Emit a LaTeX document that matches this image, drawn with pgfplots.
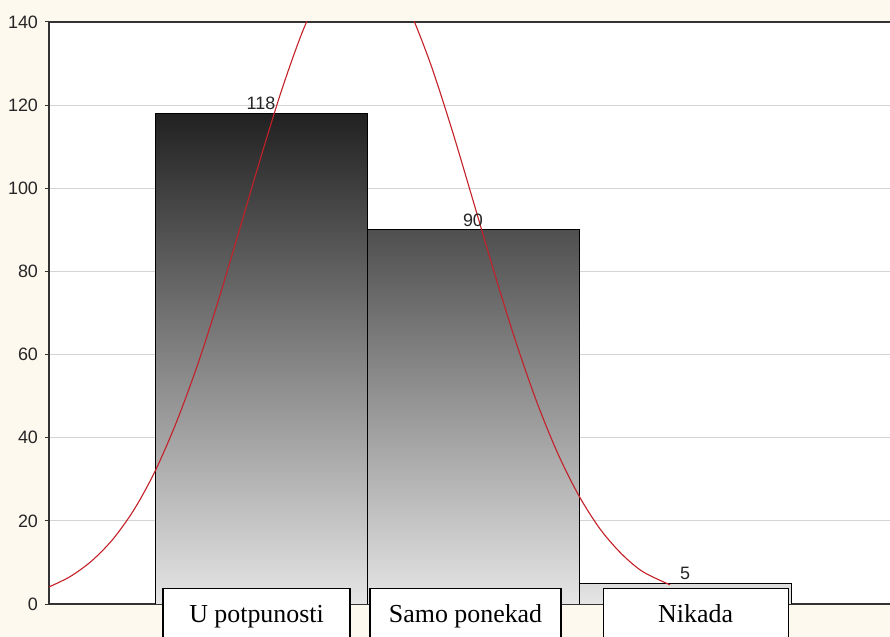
\documentclass[border=0pt]{standalone}
\usepackage{pgfplots}
\pgfplotsset{compat=1.18}
\usepackage{fontspec}
\setmainfont{Liberation Sans}
\newfontfamily\serif{Liberation Serif}

\definecolor{cream}{HTML}{FDF9EE}
\definecolor{gridgray}{HTML}{D4D4D4}
\definecolor{curvered}{RGB}{196,32,40}

\begin{document}
\begin{tikzpicture}
	\fill[cream] (-24.5bp,-16.5bp) rectangle (420.5bp,302bp);
	\begin{axis}[%
			at={(0,0)},
			anchor=south west,
			width=424bp,
			height=291bp,
			scale only axis,
			axis background/.style={fill=white},
			axis line style={draw=black!80, line width=0.7bp},
			xmin=0, xmax=4,
			ymin=0, ymax=140,
			xtick=\empty,
			ytick={0,20,...,140},
			ymajorgrids,
			grid style={gridgray, line width=0.5bp},
			tick align=outside,
			major tick length=2bp,
			tick style={black!80, line width=0.5bp},
			/pgf/number format/assume math mode=true,
			tick label style={font=\fontsize{9}{11}\selectfont, text=black!85},
			clip=true,
			nodes near coords,
			every node near coord/.append style={font=\fontsize{9}{10}\selectfont, text=black!85, inner sep=1.5bp},
		]

		\addplot[ybar, bar width=1, bar shift=0, draw=black, line width=0.5bp,
			top color=black!87, bottom color=black!10]
			coordinates {(1,118)};
		\addplot[ybar, bar width=1, bar shift=0, draw=black, line width=0.5bp,
			top color=black!69, bottom color=black!10]
			coordinates {(2,90)};
		\addplot[ybar, bar width=1, bar shift=0, draw=black, line width=0.5bp,
			top color=black!14, bottom color=black!10]
			coordinates {(3,5)};

		% fitted normal curve
		\addplot[curvered, line width=0.55bp, smooth, no marks, nodes near coords=]
			coordinates {
				(0,4.1) (0.1,6.6) (0.2,10.3) (0.3,15.5) (0.4,22.6) (0.5,31.9)
				(0.6,43.6) (0.7,57.4) (0.8,73.2) (0.9,90.3) (1.0,107.6)
				(1.1,124.0) (1.2,138.2) (1.3,148.8) (1.4,154.9) (1.5,156.0)
				(1.6,151.8) (1.7,142.8) (1.8,129.9) (1.9,114.2) (2.0,97.1)
				(2.1,79.8) (2.2,63.4) (2.3,48.7) (2.4,36.2) (2.5,26.0)
				(2.6,18.0) (2.7,12.1) (2.8,7.8) (2.93,4.6)
			};
	\end{axis}

	% category boxes below the bars
	\begin{axis}[%
			at={(0,0)},
			anchor=south west,
			width=424bp,
			height=291bp,
			scale only axis,
			xmin=0, xmax=4,
			ymin=0, ymax=140,
			hide axis,
			clip=false,
		]
		\node[draw=black, line width=0.6bp, fill=white, minimum width=93.5bp, minimum height=40bp, anchor=north]
			at (axis cs:0.979,3.85) {};
		\node[anchor=base, yshift=-17.5bp, font=\serif\fontsize{13}{15}\selectfont]
			at (axis cs:0.979,3.85) {U potpunosti};
		\node[draw=black, line width=0.6bp, fill=white, minimum width=95.5bp, minimum height=40bp, anchor=north]
			at (axis cs:1.965,3.85) {};
		\node[anchor=base, yshift=-17.5bp, font=\serif\fontsize{13}{15}\selectfont]
			at (axis cs:1.965,3.85) {Samo ponekad};
		\node[draw=black, line width=0.6bp, fill=white, minimum width=92.5bp, minimum height=40bp, anchor=north]
			at (axis cs:3.05,3.85) {};
		\node[anchor=base, yshift=-17.5bp, font=\serif\fontsize{13}{15}\selectfont]
			at (axis cs:3.05,3.85) {Nikada};
	\end{axis}

	\pgfresetboundingbox
	\path (-24.5bp,-16.5bp) rectangle (420.5bp,302bp);
\end{tikzpicture}
\end{document}
